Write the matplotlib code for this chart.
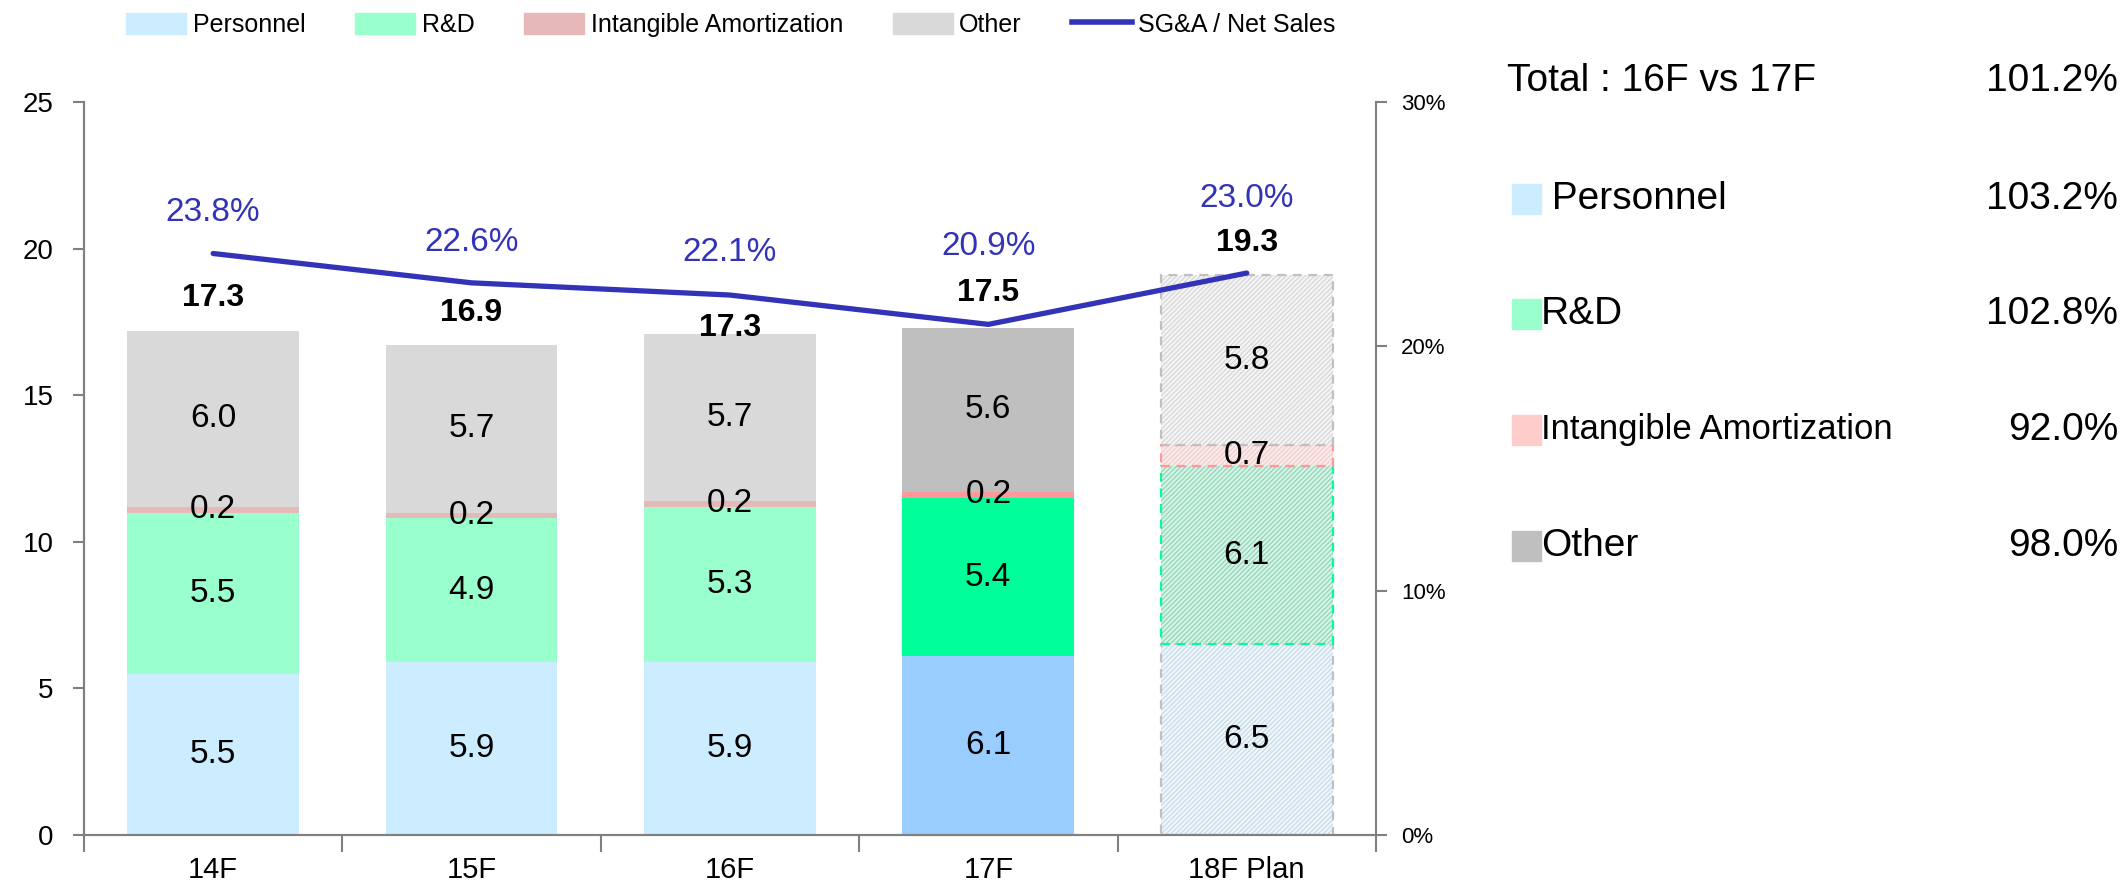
import matplotlib
matplotlib.use("Agg")
import matplotlib.pyplot as plt
from matplotlib import font_manager
from matplotlib.patches import Patch, Rectangle
from matplotlib.lines import Line2D
import numpy as np

names = [f.name for f in font_manager.fontManager.ttflist]
narrow = "Liberation Sans Narrow" if "Liberation Sans Narrow" in names else "Liberation Sans"
plt.rcParams['font.family'] = ['Liberation Sans', 'DejaVu Sans']
plt.rcParams['hatch.linewidth'] = 0.9

# data
years = ["14F", "15F", "16F", "17F", "18F Plan"]
personnel = [5.5, 5.9, 5.9, 6.1, 6.5]
rnd = [5.5, 4.9, 5.3, 5.4, 6.1]
intangible = [0.2, 0.2, 0.2, 0.2, 0.7]
other = [6.0, 5.7, 5.7, 5.6, 5.8]
totals = ["17.3", "16.9", "17.3", "17.5", "19.3"]
sga_ratio = [23.8, 22.6, 22.1, 20.9, 23.0]

cmp_names = [" Personnel", "R&D", "Intangible Amortization", "Other"]
cmp_values = ["103.2%", "102.8%", "92.0%", "98.0%"]
cmp_total = "101.2%"

# styles
base_cols = ["#CCECFF", "#99FFCC", "#E6B9B8", "#D9D9D9"]
hl_cols = ["#99CCFF", "#00FF99", "#FF9999", "#BFBFBF"]
plan_fill = ["#F0F7FC", "#D4F6E8", "#FCEBEB", "#F5F5F5"]
plan_hatch = ["#C6DAE8", "#95D2B6", "#F2CDCD", "#D6D6D6"]
plan_edge = ["#C0C0C0", "#00FF99", "#FF9999", "#C0C0C0"]
square_cols = ["#CCECFF", "#99FFCC", "#FFCCCC", "#BFBFBF"]
cmp_sizes = [28, 28, 25, 28]
line_col = "#3333B8"
grey = "#808080"
total_y = [18.3, 17.8, 17.3, 18.5, 20.2]
pct_off = [1.66, 1.64, 1.75, 3.2, 3.07]

fig = plt.figure(figsize=(21.25, 8.91), dpi=100)
ax = fig.add_axes([0.0395, 0.0628, 0.608, 0.8227])
ax2 = ax.twinx()

x = np.arange(len(years))
w = 0.665
series = [personnel, rnd, intangible, other]
bottom = np.zeros(len(years))
for k, vals in enumerate(series):
    vals = np.array(vals)
    for i in range(len(years)):
        if i == 4:
            # plan year: pale hatched fill with dashed outline
            ax.bar(x[i], vals[i], w, bottom=bottom[i], color=plan_fill[k],
                   edgecolor=plan_hatch[k], hatch="///////", linewidth=0)
            ax.bar(x[i], vals[i], w, bottom=bottom[i], fill=False,
                   edgecolor=plan_edge[k], linestyle=(0, (4, 3)), linewidth=1.6)
        else:
            c = hl_cols[k] if i == 3 else base_cols[k]
            ax.bar(x[i], vals[i], w, bottom=bottom[i], color=c, linewidth=0)
        ax.text(x[i], bottom[i] + vals[i] / 2, "%.1f" % vals[i], ha="center",
                va="center", fontsize=24, color="black")
    bottom = bottom + vals

for i in range(len(years)):
    ax.text(x[i], total_y[i], totals[i], ha="center", va="center",
            fontsize=23, fontweight="bold")

ax.set_xlim(-0.5, 4.5)
ax.set_ylim(0, 25)
ax.set_yticks([0, 5, 10, 15, 20, 25])
ax.set_xticks(x)
ax.set_xticklabels(years, fontsize=21, family=narrow)
ax.set_xticks(np.arange(-0.5, 5, 1), minor=True)
ax.tick_params(axis="x", which="major", length=0, pad=15)
ax.tick_params(axis="x", which="minor", length=12, color=grey, width=1.5, direction="out")
ax.tick_params(axis="y", labelsize=20, length=8, color=grey, width=1.5, pad=14)

ax2.plot(x, sga_ratio, color=line_col, linewidth=3.8, solid_capstyle="round")
for i in range(len(years)):
    ax2.text(x[i], sga_ratio[i] + pct_off[i], "%.1f%%" % sga_ratio[i], ha="center",
             va="center", fontsize=24, color=line_col)
ax2.set_ylim(0, 30)
ax2.set_yticks([0, 10, 20, 30])
ax2.set_yticklabels(["0%", "10%", "20%", "30%"])
ax2.tick_params(axis="y", labelsize=16, length=8, color=grey, width=1.5, pad=10)

for a in (ax, ax2):
    a.spines["top"].set_visible(False)
    for s in ("left", "right", "bottom"):
        a.spines[s].set_color(grey)
        a.spines[s].set_linewidth(1.5)
ax.spines["right"].set_visible(False)

handles = [Patch(color=c) for c in base_cols] + [Line2D([0], [0], color=line_col, lw=4)]
labels = ["Personnel", "R&D", "Intangible Amortization", "Other", "SG&A / Net Sales"]
fig.legend(handles, labels, loc="center", bbox_to_anchor=(0.344, 0.972), ncol=5,
           frameon=False, prop={"family": narrow, "size": 18}, handlelength=2.4,
           handleheight=0.9, handletextpad=0.25, columnspacing=2.0)

# comparison block on the right
fig.text(1507 / 2125, 1 - 81 / 891, "Total : 16F vs 17F", fontsize=28, family=narrow,
         va="center", ha="left")
fig.text(2118 / 2125, 1 - 81 / 891, cmp_total, fontsize=28, family=narrow,
         va="center", ha="right")
row_y = [199, 314, 430, 546]
for k in range(len(cmp_names)):
    yf = 1 - row_y[k] / 891
    fig.patches.append(Rectangle((1512 / 2125, yf - 15 / 891), 29 / 2125, 30 / 891,
                                 transform=fig.transFigure, color=square_cols[k]))
    fig.text(1541 / 2125, yf, cmp_names[k], fontsize=cmp_sizes[k], family=narrow,
             va="center", ha="left")
    fig.text(2118 / 2125, yf, cmp_values[k], fontsize=28, family=narrow,
             va="center", ha="right")

fig.savefig("out.png", dpi=100)
